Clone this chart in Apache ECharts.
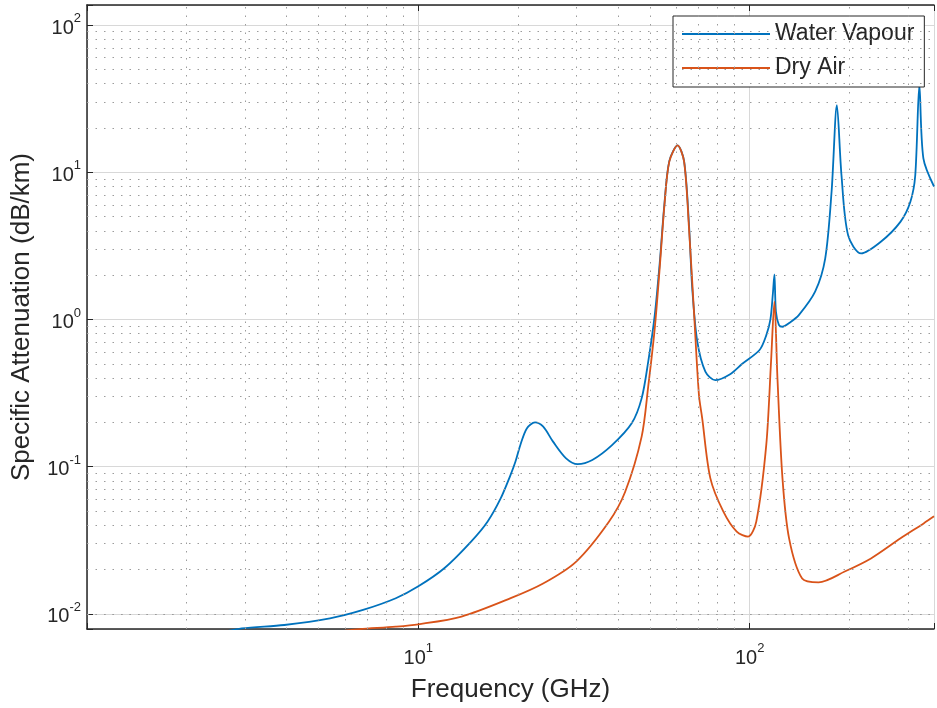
<!DOCTYPE html>
<html><head><meta charset="utf-8">
<script src="https://cdn.jsdelivr.net/npm/echarts@6/dist/echarts.min.js"></script>
<style>html,body{margin:0;padding:0;background:#fff}#c{width:937px;height:708px}</style>
</head><body><div id="c"></div>
<script>
// Frequency (GHz) and specific attenuation (dB/km)
const wvFreq = [2.5, 2.93, 3.94, 5.41, 6.81, 8.55, 10, 12.0, 14.43, 16.17, 17.72, 18.97, 19.63, 20.31, 21.25, 22.5, 23.82, 25.5, 27.92, 30.25, 33.5, 38.42, 44.05, 47.2, 49.4, 51.7, 53.5, 55.3, 57.2, 60.6, 63.4, 65.6, 67.1, 69.5, 73.5, 78.7, 87.3, 95, 107.1, 112.2, 115.5, 117.5, 118.75, 120, 122.5, 125.5, 132, 140.7, 157.7, 169, 176.7, 183.3, 189.3, 198.2, 217, 248.8, 285, 305.5, 316, 325.2, 334.4, 360];
const wvAtt  = [0.0074, 0.00798, 0.00841, 0.00933, 0.01064, 0.01277, 0.01539, 0.0205, 0.0310, 0.0423, 0.0609, 0.0877, 0.108, 0.140, 0.182, 0.200, 0.187, 0.148, 0.114, 0.104, 0.111, 0.140, 0.197, 0.291, 0.516, 1.07, 2.4, 6.1, 11.9, 15.2, 11.9, 4.4, 1.62, 0.706, 0.442, 0.387, 0.425, 0.50, 0.62, 0.78, 1.0, 1.5, 2.02, 1.13, 0.92, 0.892, 0.95, 1.07, 1.55, 2.59, 7.4, 28.5, 9.5, 3.73, 2.81, 3.37, 4.60, 6.30, 9.5, 39.0, 12.4, 8.0];
const daFreq = [6.0, 6.65, 8.55, 10.0, 13.5, 19.0, 23.8, 29.9, 37.6, 42.1, 47.2, 49.4, 51.7, 53.5, 55.3, 57.2, 60.6, 63.4, 65.6, 67.9, 70.3, 71.9, 76.1, 83.3, 91.4, 98.9, 104.7, 112.2, 116.0, 118.75, 121.3, 125.6, 131.5, 144, 161.4, 193.6, 232.3, 285.3, 335, 360];
const daAtt  = [0.0077, 0.00789, 0.0082, 0.0085, 0.0096, 0.0128, 0.0161, 0.0226, 0.0423, 0.0676, 0.16, 0.35, 0.87, 2.22, 5.97, 11.8, 15.2, 11.8, 4.15, 1.13, 0.306, 0.213, 0.0833, 0.0495, 0.0362, 0.0335, 0.0424, 0.140, 0.516, 1.32, 0.397, 0.0833, 0.0326, 0.0174, 0.0164, 0.0194, 0.0238, 0.0326, 0.0412, 0.046];
const seriesNames = ['Water Vapour', 'Dry Air'];
const xTitle = 'Frequency (GHz)';
const yTitle = 'Specific Attenuation (dB/km)';
const xMin = 1, xMax = 360, yMin = 0.0079, yMax = 136.7;
const minorX = [2,3,4,5,6,7,8,9,20,30,40,50,60,70,80,90,200,300];
const minorY = [0.008,0.009,0.02,0.03,0.04,0.05,0.06,0.07,0.08,0.09,0.2,0.3,0.4,0.5,0.6,0.7,0.8,0.9,2,3,4,5,6,7,8,9,20,30,40,50,60,70,80,90];

const FONT = '"Liberation Sans", Arial, Helvetica, sans-serif';
const TXT = '#262626';
function powLabel(hideZero) {
  return function (v) {
    const e = Math.log10(v);
    const r = Math.round(e);
    if (Math.abs(e - r) > 1e-6) return '';
    if (hideZero && r === 0) return '';
    return '{b|10}{s|' + r + '}';
  };
}
const rich = {
  b: {fontSize: 20, fontFamily: FONT, color: TXT, verticalAlign: 'bottom', lineHeight: 26},
  s: {fontSize: 13, fontFamily: FONT, color: TXT, verticalAlign: 'top', lineHeight: 26}
};
const chart = echarts.init(document.getElementById('c'), null, {renderer: 'canvas'});
const pair = (xs, ys) => xs.map((x, i) => [x, ys[i]]);
const minorStyle = {type: [1.5, 7], color: '#9c9c9c', width: 1};
chart.setOption({
  animation: false,
  backgroundColor: '#fff',
  grid: {left: 87, top: 5, right: -10, bottom: 77, containLabel: false},
  legend: {
    left: 673, top: 16, orient: 'vertical',
    backgroundColor: '#fff', borderColor: TXT, borderWidth: 1,
    padding: [5, 10, 6, 9], itemWidth: 88, itemHeight: 2, itemGap: 8,
    icon: 'rect',
    textStyle: {fontSize: 23, fontFamily: FONT, color: TXT, lineHeight: 26},
    data: seriesNames
  },
  xAxis: [{
    type: 'log', logBase: 10, min: xMin, max: xMax,
    name: xTitle, nameLocation: 'middle', nameGap: 48,
    nameTextStyle: {fontSize: 26, fontFamily: FONT, color: TXT},
    axisLine: {show: true, lineStyle: {color: TXT, width: 1.5}},
    axisTick: {show: true, inside: true, length: 6, lineStyle: {color: TXT}},
    axisLabel: {formatter: powLabel(true), rich: rich, margin: 13},
    splitLine: {show: true, lineStyle: {color: '#d8d8d8', width: 1}}
  }, {
    type: 'log', logBase: 10, min: xMin, max: xMax, position: 'top',
    axisLine: {show: true, lineStyle: {color: TXT, width: 1.5}},
    axisTick: {show: true, inside: true, length: 6, lineStyle: {color: TXT}},
    axisLabel: {show: false}, splitLine: {show: false}
  }],
  yAxis: {
    type: 'log', logBase: 10, min: yMin, max: yMax,
    name: yTitle, nameLocation: 'middle', nameGap: 52,
    nameTextStyle: {fontSize: 26, fontFamily: FONT, color: TXT},
    axisLine: {show: true, lineStyle: {color: TXT, width: 1.5}},
    axisTick: {show: true, inside: true, length: 6, lineStyle: {color: TXT}},
    axisLabel: {formatter: powLabel(false), rich: rich, margin: 6},
    splitLine: {show: true, lineStyle: {color: '#d8d8d8', width: 1}}
  },
  series: [{
    type: 'line', name: '__grid', data: [], z: 1, silent: true,
    markLine: {
      silent: true, symbol: ['none', 'none'], label: {show: false},
      lineStyle: minorStyle, animation: false,
      data: minorX.map(v => ({xAxis: v})).concat(minorY.map(v => ({yAxis: v})))
    }
  }, {
    type: 'line', name: seriesNames[0], data: pair(wvFreq, wvAtt),
    symbol: 'none', smooth: 0.3, z: 3, color: '#0072BD',
    lineStyle: {width: 1.8, color: '#0072BD'}
  }, {
    type: 'line', name: seriesNames[1], data: pair(daFreq, daAtt),
    symbol: 'none', smooth: 0.3, z: 3, color: '#D95319',
    lineStyle: {width: 1.8, color: '#D95319'}
  }]
});
</script></body></html>
